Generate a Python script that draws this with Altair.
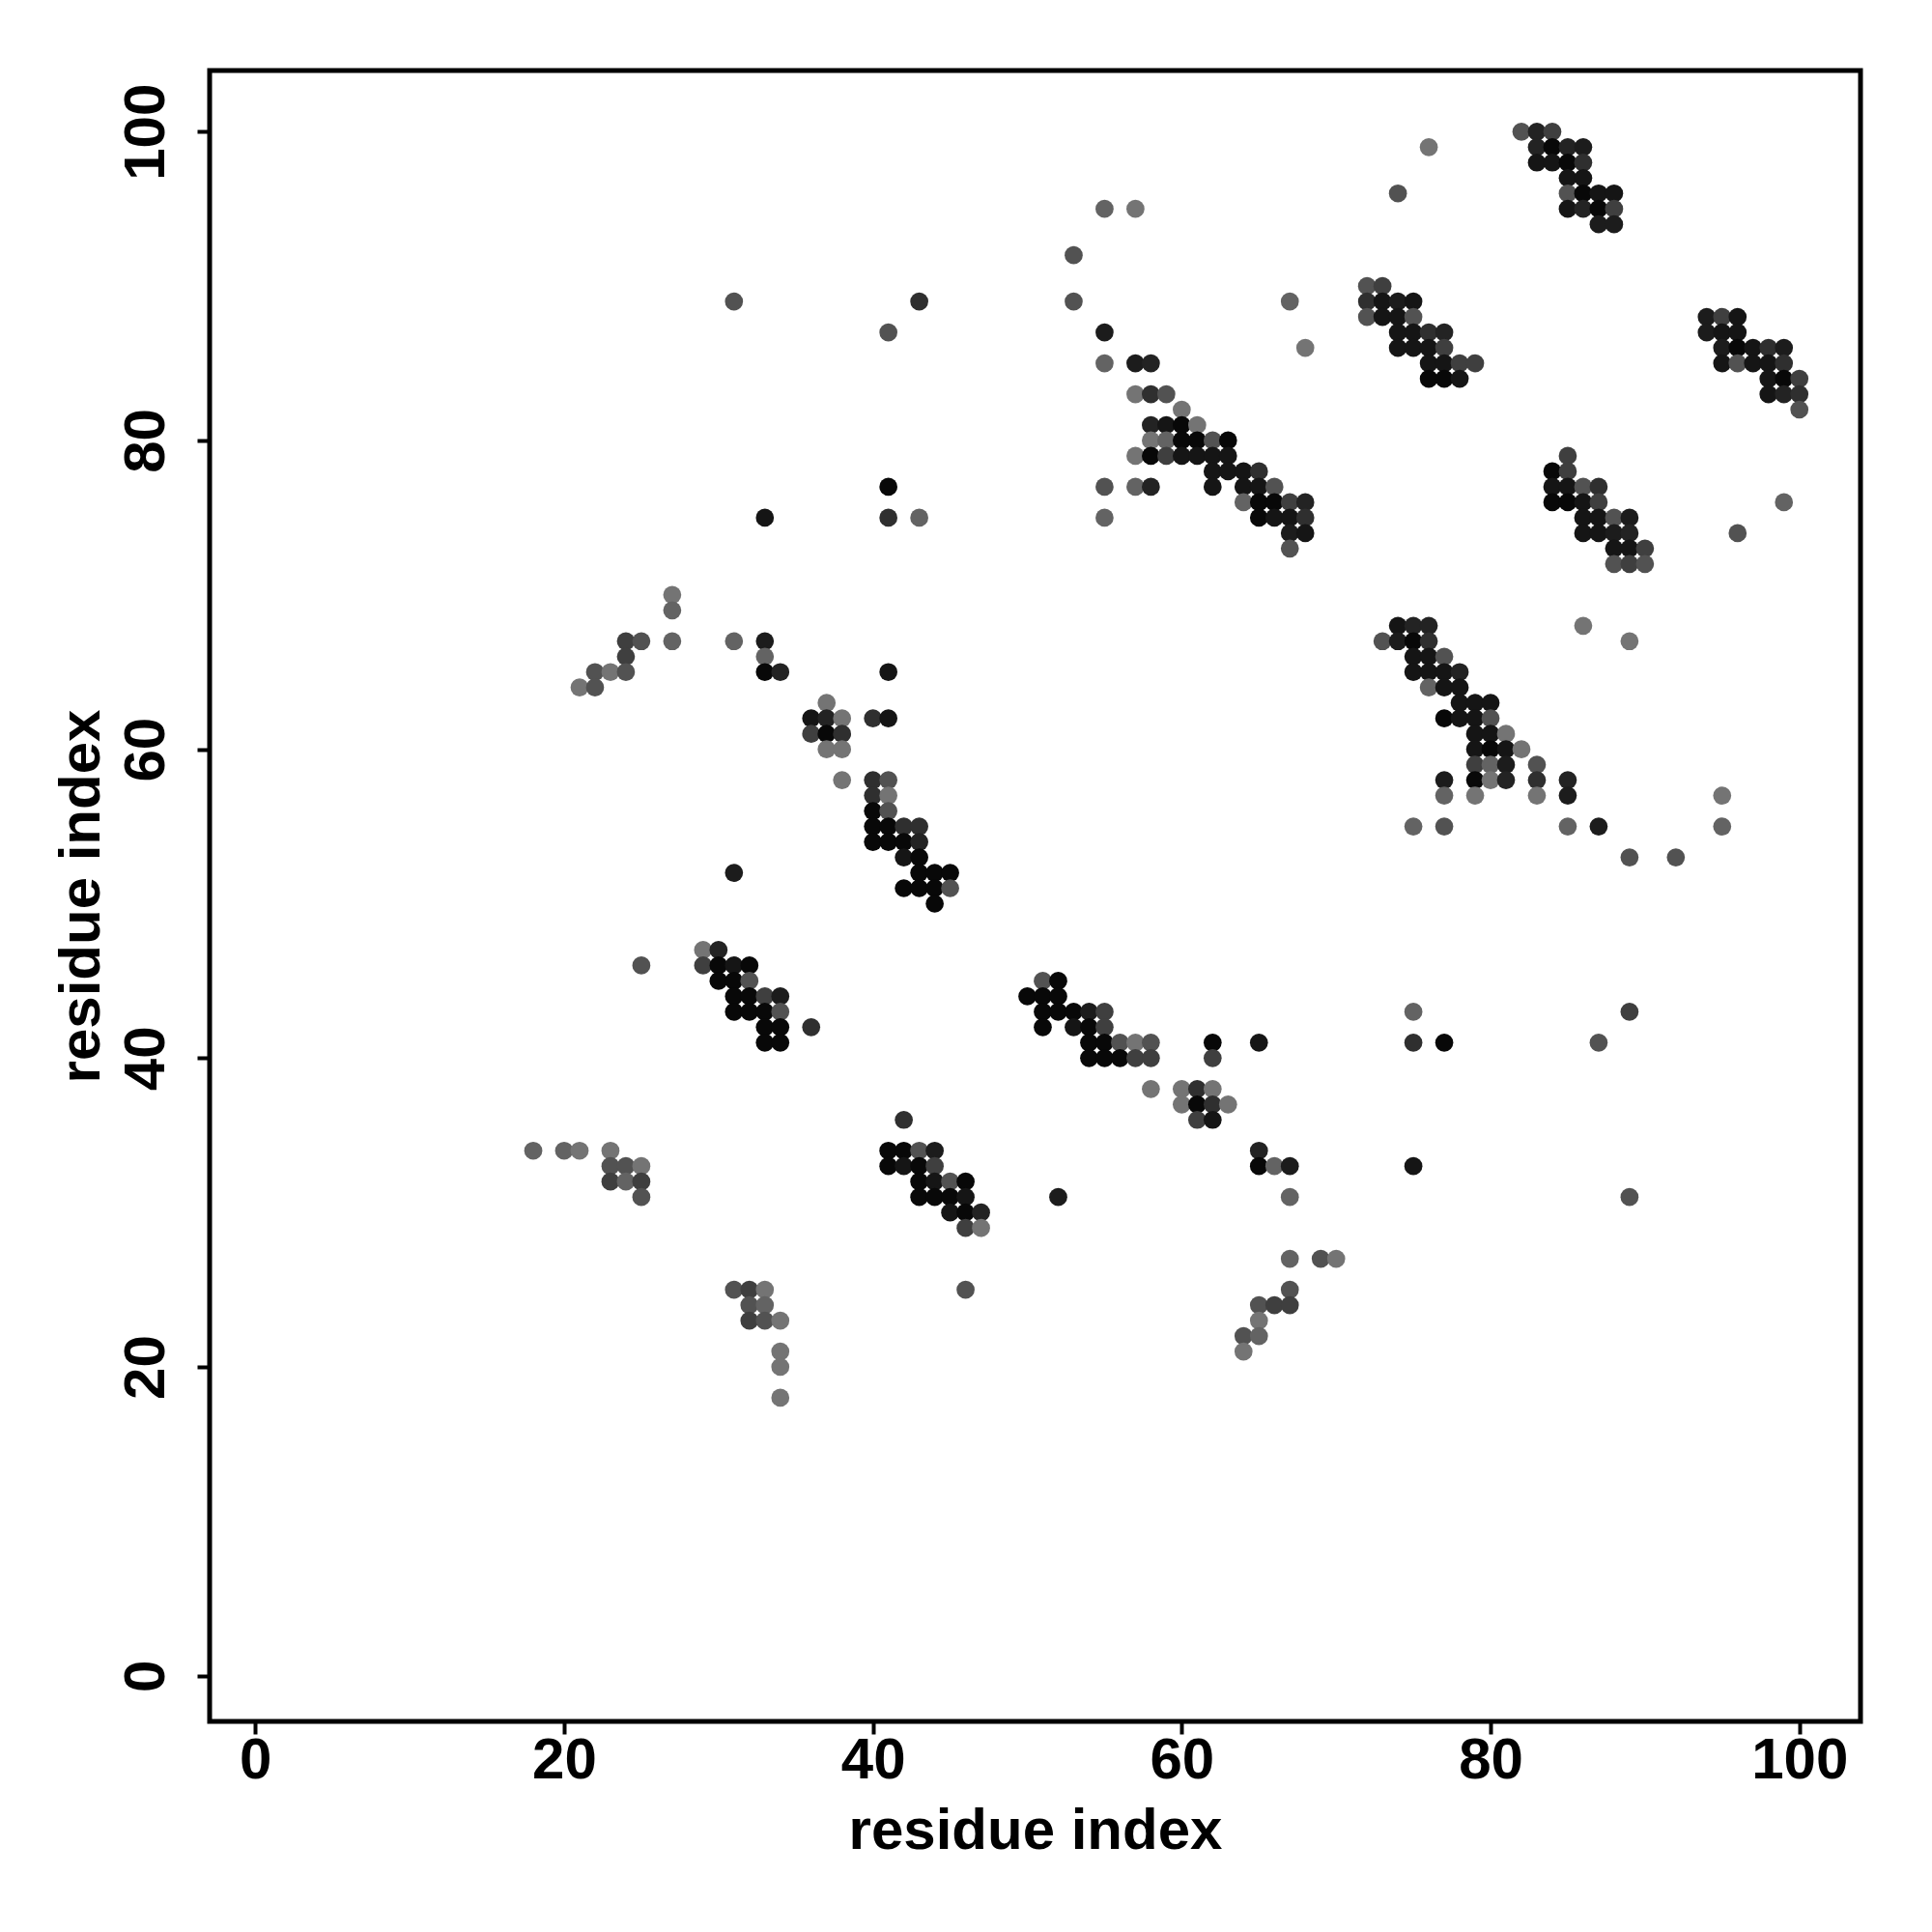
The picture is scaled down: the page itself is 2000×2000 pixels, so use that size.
import altair as alt
import pandas as pd

# grey level of each contact, as contact score (darker = higher)
grade_score = {"K": 0.97, "B1": 0.9, "B2": 0.85, "C1": 0.8, "C2": 0.72,
               "D": 0.62, "E": 0.5, "F": 0.4, "G": 0.3}

# (residue i, residue j, grade)
upper_left = [
    (31, 89, "E"), (43, 89, "C2"), (41, 87, "E"),
]
upper_mid = [
    (55, 95, "F"), (57, 95, "G"), (53, 92, "E"), (53, 89, "E"), (67, 89, "F"), (68, 86, "G"),
    (55, 87, "B2"), (55, 85, "F"), (57, 85, "B2"), (58, 85, "C1"), (57, 83, "G"), (58, 83, "C2"),
    (59, 83, "E"), (60, 82, "G"), (58, 81, "C1"), (59, 81, "B1"), (60, 81, "K"), (61, 81, "G"),
    (58, 80, "G"), (59, 80, "F"), (60, 80, "K"), (61, 80, "K"), (62, 80, "E"), (63, 80, "K"),
]
upper_right = [
    (76, 99, "G"), (74, 96, "E"),
    (82, 100, "E"), (83, 100, "C1"), (84, 100, "D"),
    (83, 99, "C1"), (84, 99, "K"), (85, 99, "C1"), (86, 99, "B2"),
    (83, 98, "B1"), (84, 98, "B1"), (85, 98, "K"), (86, 98, "C2"),
    (85, 97, "B1"), (86, 97, "B1"),
    (85, 96, "E"), (86, 96, "K"), (87, 96, "B1"), (88, 96, "B1"),
    (85, 95, "B1"), (86, 95, "C1"), (87, 95, "K"), (88, 95, "D"),
    (87, 94, "B2"), (88, 94, "B2"),
    (72, 90, "E"), (73, 90, "D"),
    (72, 89, "C2"), (73, 89, "B1"), (74, 89, "B2"), (75, 89, "B1"),
    (72, 88, "E"), (73, 88, "B1"), (74, 88, "B1"), (75, 88, "E"),
    (74, 87, "B1"), (75, 87, "B1"), (76, 87, "C2"), (77, 87, "C1"),
    (74, 86, "B1"), (75, 86, "B1"), (76, 86, "B1"), (77, 86, "D"),
    (76, 85, "B1"), (77, 85, "B1"), (78, 85, "D"), (79, 85, "D"),
    (76, 84, "K"), (77, 84, "K"), (78, 84, "B1"),
    (94, 88, "B2"), (95, 88, "D"), (96, 88, "B1"),
    (94, 87, "B2"), (95, 87, "B1"), (96, 87, "B1"),
    (95, 86, "B2"), (96, 86, "K"), (97, 86, "B1"), (98, 86, "C2"), (99, 86, "B2"),
    (95, 85, "B1"), (96, 85, "E"), (97, 85, "B1"), (98, 85, "B1"), (99, 85, "C2"),
    (98, 84, "B1"), (99, 84, "K"), (100, 84, "D"),
    (98, 83, "B1"), (99, 83, "C1"), (100, 83, "C2"),
    (100, 82, "E"),
]
middle_left = [
    (41, 77, "K"), (33, 75, "B1"), (41, 75, "C2"), (43, 75, "F"),
    (27, 70, "G"), (27, 69, "F"), (27, 67, "F"), (24, 67, "D"), (25, 67, "E"), (24, 66, "D"),
    (22, 65, "E"), (23, 65, "G"), (24, 65, "E"), (21, 64, "G"), (22, 64, "E"),
    (31, 67, "F"), (33, 67, "B2"), (33, 66, "F"), (33, 65, "K"), (34, 65, "C1"), (41, 65, "B1"),
    (37, 63, "G"), (36, 62, "B1"), (37, 62, "C1"), (38, 62, "G"), (40, 62, "C2"), (41, 62, "B1"),
    (36, 61, "D"), (37, 61, "K"), (38, 61, "C2"), (37, 60, "G"), (38, 60, "G"),
]
middle_mid = [
    (57, 79, "G"), (58, 79, "K"), (59, 79, "D"), (60, 79, "B1"), (61, 79, "B1"), (62, 79, "B1"), (63, 79, "B1"),
    (62, 78, "B1"), (63, 78, "B1"), (64, 78, "B1"), (65, 78, "C2"),
    (55, 77, "E"), (57, 77, "F"), (58, 77, "C1"), (62, 77, "B1"), (64, 77, "B1"), (65, 77, "B1"), (66, 77, "E"),
    (64, 76, "F"), (65, 76, "K"), (66, 76, "K"), (67, 76, "D"), (68, 76, "C1"),
    (55, 75, "F"), (65, 75, "K"), (66, 75, "B1"), (67, 75, "B1"), (68, 75, "C2"),
    (67, 74, "B2"), (68, 74, "B1"), (67, 73, "E"),
]
middle_right = [
    (85, 79, "D"), (84, 78, "K"), (85, 78, "D"),
    (84, 77, "B1"), (85, 77, "B1"), (86, 77, "E"), (87, 77, "C2"),
    (84, 76, "K"), (85, 76, "K"), (86, 76, "B1"), (87, 76, "D"),
    (86, 75, "B1"), (87, 75, "B1"), (88, 75, "E"), (89, 75, "B2"),
    (86, 74, "B1"), (87, 74, "B1"), (88, 74, "B2"), (89, 74, "C1"),
    (88, 73, "B1"), (89, 73, "B1"), (90, 73, "D"),
    (88, 72, "E"), (89, 72, "D"), (90, 72, "E"),
    (99, 76, "F"), (96, 74, "E"), (86, 68, "G"), (89, 67, "G"),
    (74, 68, "B1"), (75, 68, "C1"), (76, 68, "C1"),
    (73, 67, "E"), (74, 67, "B2"), (75, 67, "K"), (76, 67, "C2"),
    (75, 66, "B1"), (76, 66, "B1"), (77, 66, "E"),
    (75, 65, "B1"), (76, 65, "B1"), (77, 65, "B1"), (78, 65, "C1"),
    (76, 64, "F"), (77, 64, "B1"), (78, 64, "B1"),
    (78, 63, "B1"), (79, 63, "B1"), (80, 63, "B1"),
    (77, 62, "K"), (78, 62, "B1"), (79, 62, "B1"), (80, 62, "E"),
    (79, 61, "B1"), (80, 61, "B1"), (81, 61, "G"),
    (79, 60, "B1"), (80, 60, "K"), (81, 60, "B1"), (82, 60, "G"),
    (79, 59, "D"), (80, 59, "F"), (81, 59, "B2"), (83, 59, "E"),
]
lower_right = [
    (77, 58, "B2"), (79, 58, "K"), (80, 58, "G"), (81, 58, "C1"), (83, 58, "C2"), (85, 58, "C1"),
    (77, 57, "F"), (79, 57, "G"), (83, 57, "G"), (85, 57, "B2"), (95, 57, "G"),
    (75, 55, "F"), (77, 55, "E"), (85, 55, "F"), (87, 55, "B2"), (95, 55, "F"),
    (89, 53, "E"), (92, 53, "E"),
    (75, 43, "F"), (89, 43, "D"), (75, 41, "C2"), (77, 41, "K"), (87, 41, "E"),
    (75, 33, "B1"), (89, 31, "E"),
]
lower_left = [
    (38, 58, "G"), (40, 58, "C2"), (41, 58, "E"), (40, 57, "C2"), (41, 57, "G"),
    (40, 56, "K"), (41, 56, "E"),
    (40, 55, "K"), (41, 55, "K"), (42, 55, "C2"), (43, 55, "C2"),
    (40, 54, "K"), (41, 54, "K"), (42, 54, "K"), (43, 54, "C1"),
    (42, 53, "B1"), (43, 53, "K"),
    (43, 52, "K"), (44, 52, "K"), (45, 52, "K"),
    (42, 51, "K"), (43, 51, "K"), (44, 51, "K"), (45, 51, "E"),
    (44, 50, "K"), (31, 52, "B2"),
    (29, 47, "G"), (30, 47, "C1"),
    (25, 46, "E"), (29, 46, "D"), (30, 46, "K"), (31, 46, "B1"), (32, 46, "K"),
    (30, 45, "K"), (31, 45, "K"), (32, 45, "E"),
    (31, 44, "K"), (32, 44, "K"), (33, 44, "D"), (34, 44, "B2"),
    (31, 43, "K"), (32, 43, "K"), (33, 43, "K"), (34, 43, "E"),
    (33, 42, "K"), (34, 42, "K"), (36, 42, "C2"),
    (33, 41, "K"), (34, 41, "K"),
]
lower_mid = [
    (51, 45, "E"), (52, 45, "K"),
    (50, 44, "K"), (51, 44, "K"), (52, 44, "K"),
    (51, 43, "K"), (52, 43, "K"), (53, 43, "K"), (54, 43, "B2"), (55, 43, "D"),
    (51, 42, "K"), (53, 42, "B1"), (54, 42, "K"), (55, 42, "D"),
    (54, 41, "K"), (55, 41, "K"), (56, 41, "E"), (57, 41, "G"), (58, 41, "E"),
    (54, 40, "K"), (55, 40, "K"), (56, 40, "K"), (57, 40, "D"), (58, 40, "D"),
    (62, 41, "K"), (62, 40, "D"), (65, 41, "B1"),
    (58, 38, "G"), (60, 38, "G"), (61, 38, "C2"), (62, 38, "G"),
    (60, 37, "G"), (61, 37, "K"), (62, 37, "C2"), (63, 37, "G"),
    (61, 36, "D"), (62, 36, "B1"),
    (65, 34, "C1"), (65, 33, "K"), (66, 33, "F"), (67, 33, "B2"),
    (67, 31, "F"), (52, 31, "B2"),
    (67, 27, "F"), (69, 27, "E"), (70, 27, "G"), (67, 25, "E"),
    (65, 24, "E"), (66, 24, "D"), (67, 24, "D"),
    (65, 23, "G"), (64, 22, "E"), (65, 22, "F"), (64, 21, "G"),
]
bottom_left = [
    (42, 36, "C2"),
    (41, 34, "K"), (42, 34, "K"), (43, 34, "E"), (44, 34, "B2"),
    (41, 33, "K"), (42, 33, "B1"), (43, 33, "K"), (44, 33, "D"),
    (43, 32, "K"), (44, 32, "B1"), (45, 32, "E"), (46, 32, "K"),
    (43, 31, "K"), (44, 31, "K"), (45, 31, "K"), (46, 31, "B1"),
    (45, 30, "B1"), (46, 30, "K"), (47, 30, "C1"),
    (46, 29, "D"), (47, 29, "G"), (46, 25, "E"),
    (18, 34, "F"), (20, 34, "F"), (21, 34, "G"), (23, 34, "G"),
    (23, 33, "E"), (24, 33, "E"), (25, 33, "G"),
    (23, 32, "D"), (24, 32, "F"), (25, 32, "D"),
    (25, 31, "E"),
    (31, 25, "E"), (32, 25, "D"), (33, 25, "G"),
    (32, 24, "E"), (33, 24, "F"),
    (32, 23, "D"), (33, 23, "E"), (34, 23, "G"),
    (34, 21, "G"), (34, 20, "G"), (34, 18, "G"),
]

ticks = [0, 20, 40, 60, 80, 100]
axis_domain = [-2.96, 103.96]

rows = (upper_left + upper_mid + upper_right + middle_left + middle_mid + middle_right
        + lower_right + lower_left + lower_mid + bottom_left)
df = pd.DataFrame(rows, columns=["i", "j", "grade"])
df["score"] = df["grade"].map(grade_score)

FONT = "Liberation Sans"
PLOT = 1709

common_axis = dict(
    values=ticks, grid=False, domain=False,
    tickSize=13, tickWidth=4, tickColor="black",
    labelFont=FONT, labelFontSize=60, labelFontWeight="bold", labelColor="black",
    labelFlush=False, labelOverlap=False,
    titleFont=FONT, titleFontSize=60, titleFontWeight="bold", titleColor="black",
    title="residue index",
)

chart = alt.Chart(df).mark_circle(size=350, opacity=1).encode(
    x=alt.X("i:Q", scale=alt.Scale(domain=axis_domain, nice=False, zero=False),
            axis=alt.Axis(labelPadding=-2, titleBaseline="alphabetic", titleY=131,
                          **common_axis)),
    y=alt.Y("j:Q", scale=alt.Scale(domain=axis_domain, nice=False, zero=False),
            axis=alt.Axis(labelAngle=270, labelAlign="center", labelBaseline="alphabetic",
                          labelPadding=35, titleAngle=270, titleAlign="center",
                          titleBaseline="alphabetic", titleX=-115, titleY=PLOT / 2,
                          **common_axis)),
    color=alt.Color("score:Q", scale=alt.Scale(domain=[0, 1], range=["#aaaaaa", "#000000"]),
                    legend=None),
).properties(
    width=PLOT, height=PLOT,
    autosize=alt.AutoSizeParams(type="none"),
    padding={"left": 209, "top": 65, "right": 50, "bottom": 200},
    background="white",
).configure_view(stroke="black", strokeWidth=5)

chart.save("out.html", embed_options={"renderer": "svg", "actions": False})
